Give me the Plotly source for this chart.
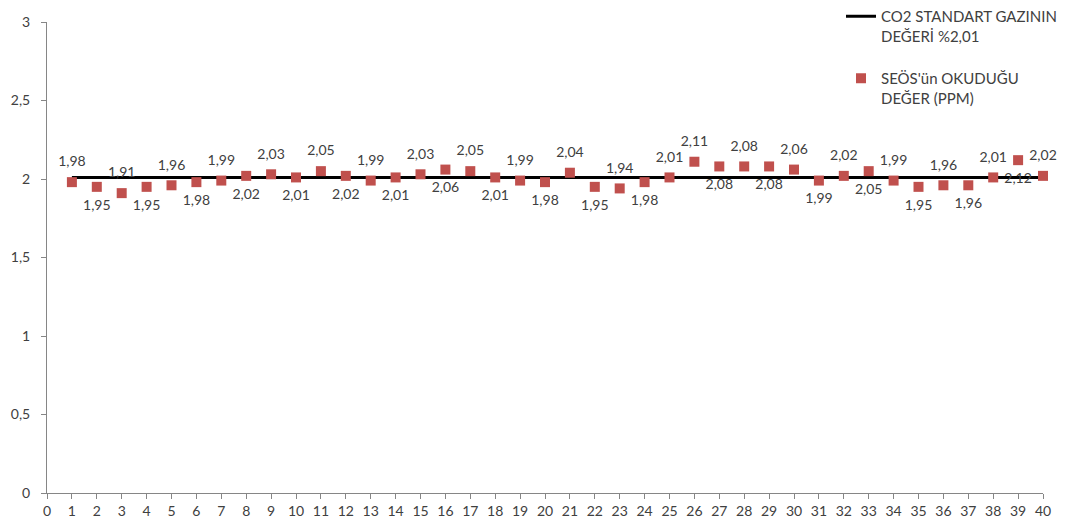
import plotly.graph_objects as go

# Data
olcum_no = list(range(1, 41))
seos_degerleri = [1.98, 1.95, 1.91, 1.95, 1.96, 1.98, 1.99, 2.02, 2.03, 2.01,
                  2.05, 2.02, 1.99, 2.01, 2.03, 2.06, 2.05, 2.01, 1.99, 1.98,
                  2.04, 1.95, 1.94, 1.98, 2.01, 2.11, 2.08, 2.08, 2.08, 2.06,
                  1.99, 2.02, 2.05, 1.99, 1.95, 1.96, 1.96, 2.01, 2.12, 2.02]
standart_deger = [2.01] * 40
x_tick_labels = [str(i) for i in range(0, 41)]
y_tick_vals = [0, 0.5, 1, 1.5, 2, 2.5, 3]
y_tick_labels = ["0", "0,5", "1", "1,5", "2", "2,5", "3"]

labels = [f"{v:.2f}".replace(".", ",") for v in seos_degerleri]
positions = []
for i in olcum_no:
    top = (i <= 25 and i % 2 == 1) or (i >= 26 and i % 2 == 0)
    positions.append("top center" if top else "bottom center")

FONT = "Lato, Calibri, Carlito, sans-serif"
TXT = "#404040"

W, H = 1074, 531
ML, MB = 47, 38
paper_w = W - ML
paper_h = H - MB

fig = go.Figure()
fig.add_trace(go.Scatter(
    x=olcum_no, y=standart_deger, mode="lines",
    line=dict(color="black", width=3),
    name="CO2 STANDART GAZININ<br>DEĞERİ %2,01", legendgroup="a",
))
fig.add_trace(go.Scatter(
    x=olcum_no, y=seos_degerleri, mode="markers",
    marker=dict(symbol="square", size=10, color="#C0504D"),
    name="SEÖS'ün OKUDUĞU<br>DEĞER (PPM)", legendgroup="b",
    cliponaxis=False,
))
# data labels (invisible larger marker to push labels away from the points)
fig.add_trace(go.Scatter(
    x=olcum_no, y=seos_degerleri, mode="markers+text",
    marker=dict(symbol="square", size=18, color="rgba(0,0,0,0)"),
    text=labels, textposition=positions,
    textfont=dict(family=FONT, size=14, color=TXT),
    showlegend=False, hoverinfo="skip", cliponaxis=False,
))

fig.update_layout(
    width=W, height=H,
    margin=dict(l=ML, r=0, t=0, b=MB, autoexpand=False),
    plot_bgcolor="white", paper_bgcolor="white",
    font=dict(family=FONT, size=13, color=TXT),
    separators=",.",
    showlegend=True,
    legend=dict(
        x=(841 - ML) / paper_w, y=1.0, xanchor="left", yanchor="top",
        bgcolor="rgba(0,0,0,0)", font=dict(family=FONT, size=15, color=TXT),
        tracegroupgap=20, valign="top", itemwidth=30,
    ),
    xaxis=dict(
        domain=[0, 996 / paper_w],
        range=[0, 40], tickmode="array", tickvals=list(range(0, 41)),
        ticktext=x_tick_labels, showgrid=False, zeroline=False,
        showline=True, linecolor="#868686", linewidth=1,
        ticks="outside", ticklen=5, tickcolor="#868686",
        tickfont=dict(family=FONT, size=14, color=TXT),
    ),
    yaxis=dict(
        domain=[0, (paper_h - 22) / paper_h],
        range=[0, 3], tickmode="array", tickvals=y_tick_vals,
        ticktext=y_tick_labels, showgrid=False, zeroline=False,
        showline=True, linecolor="#868686", linewidth=1,
        ticks="outside", ticklen=5, tickcolor="#868686",
        ticklabelstandoff=8,
        tickfont=dict(family=FONT, size=14, color=TXT),
    ),
)

fig.write_html("out.html", config={"displayModeBar": False},
               post_script="document.body.style.margin='0';")
